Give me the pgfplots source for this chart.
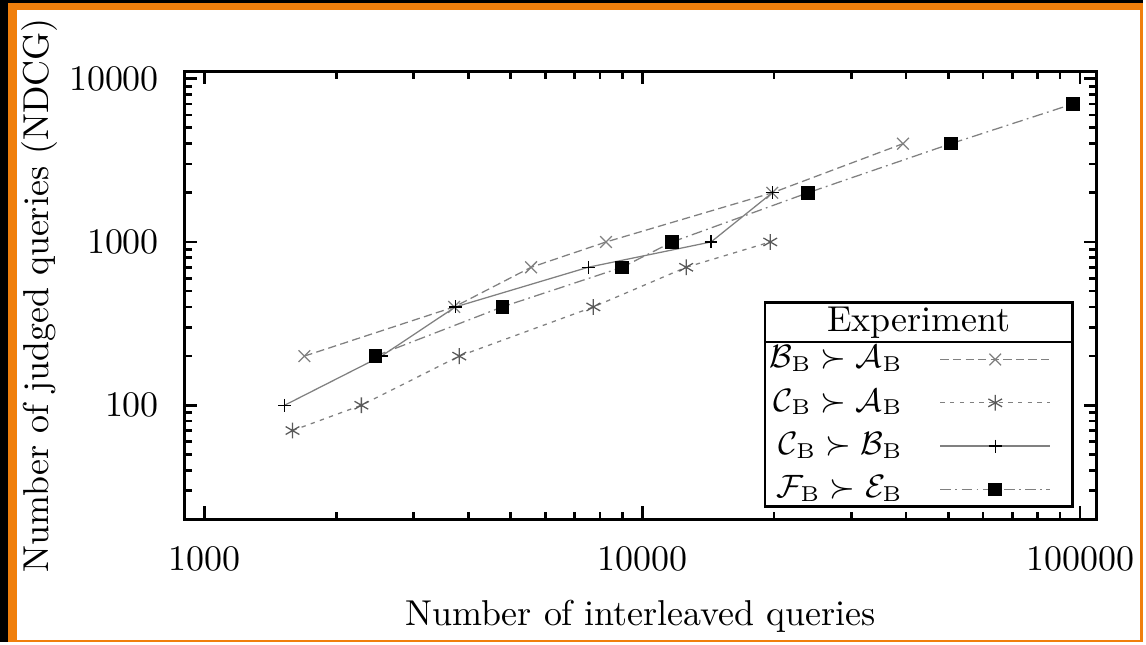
\documentclass[border=0pt]{standalone}
\usepackage{pgfplots}
\pgfplotsset{compat=1.18}
\usepackage{amsmath,amssymb}
\definecolor{frameorange}{RGB}{240,127,12}
\definecolor{lgray}{gray}{0.5}
\definecolor{mgray}{gray}{0.35}
\begin{document}
\begin{tikzpicture}
\fill[black] (0,0) rectangle (318pt,178.70pt);
\fill[frameorange] (2.22pt,0) rectangle (318pt,177.87pt);
\fill[white] (4.72pt,0.64pt) rectangle (317.17pt,175.79pt);
\begin{axis}[
  at={(51.34pt,34.21pt)}, anchor=south west,
  scale only axis, width=253.7pt, height=124.6pt,
  xmode=log, ymode=log,
  xmin=900, xmax=109000, ymin=20, ymax=11070,
  xtick={1000,10000,100000}, xticklabels={1000,10000,100000},
  minor xtick={2000,3000,4000,5000,6000,7000,8000,9000,20000,30000,40000,50000,60000,70000,80000,90000},
  ytick={100,1000,10000}, yticklabels={100,1000,10000},
  minor ytick={30,40,50,60,70,80,90,200,300,400,500,600,700,800,900,2000,3000,4000,5000,6000,7000,8000,9000},
  axis line style={line width=0.75pt},
  every tick/.style={line width=0.75pt, black},
  major tick length=3.6pt, minor tick length=2pt,
  yticklabel style={xshift=-3.6pt},
  xticklabel style={yshift=-4pt},
  xlabel={Number of interleaved queries},
  ylabel={Number of judged queries (NDCG)},
  xlabel style={at={(axis description cs:0.5,-0.236)}, anchor=base},
  ylabel style={at={(axis description cs:-0.149,0.5)}, anchor=base},
  legend image code/.code={\draw[mark repeat=2,mark phase=2,#1] plot coordinates {(0pt,0pt) (15.25pt,0pt) (30.5pt,0pt)};},
  legend plot pos=right,
  legend cell align=right,
  legend style={at={(axis description cs:0.9505,0.0185)}, anchor=south east, draw=none, fill=none, inner sep=0pt, row sep=0.4pt, column sep=8.3pt, font=\small},
  clip=false,
]
\addplot[lgray, line width=0.35pt, dash pattern=on 2.3pt off 1.2pt, mark=x, mark size=2.3pt, mark options={solid, lgray}]
  coordinates {(1690,200) (3716,400) (5570,700) (8260,1000) (19800,2000) (39400,4000)};
\addlegendentry{$\mathcal{B}_\mathrm{B}\succ\mathcal{A}_\mathrm{B}$}
\addplot[lgray, line width=0.35pt, dash pattern=on 1.2pt off 1.5pt, mark=asterisk, mark size=2.2pt, mark options={solid, mgray}]
  coordinates {(1588,70) (2281,100) (3818,200) (7728,400) (12590,700) (19600,1000)};
\addlegendentry{$\mathcal{C}_\mathrm{B}\succ\mathcal{A}_\mathrm{B}$}
\addplot[lgray, line width=0.35pt, solid, mark=+, mark size=1.8pt, mark options={solid, black}]
  coordinates {(1523,100) (2535,200) (3740,400) (7520,700) (14350,1000) (19800,2000)};
\addlegendentry{$\mathcal{C}_\mathrm{B}\succ\mathcal{B}_\mathrm{B}$}
\addplot[lgray, line width=0.35pt, dash pattern=on 3pt off 1.2pt on 0.5pt off 1.2pt, mark=square*, mark size=1.7pt, mark options={solid, black, fill=black}]
  coordinates {(2455,200) (4786,400) (8995,700) (11700,1000) (23880,2000) (50700,4000) (96200,7000)};
\addlegendentry{$\mathcal{F}_\mathrm{B}\succ\mathcal{E}_\mathrm{B}$}
\draw[line width=0.75pt] (axis description cs:0.6366,0.0283) rectangle (axis description cs:0.9734,0.4849);
\draw[line width=0.75pt] (axis description cs:0.6366,0.3958) -- (axis description cs:0.9734,0.3958);
\node[anchor=base, inner sep=0pt] at (axis description cs:0.805,0.4187) {Experiment};
\end{axis}
\end{tikzpicture}
\end{document}
